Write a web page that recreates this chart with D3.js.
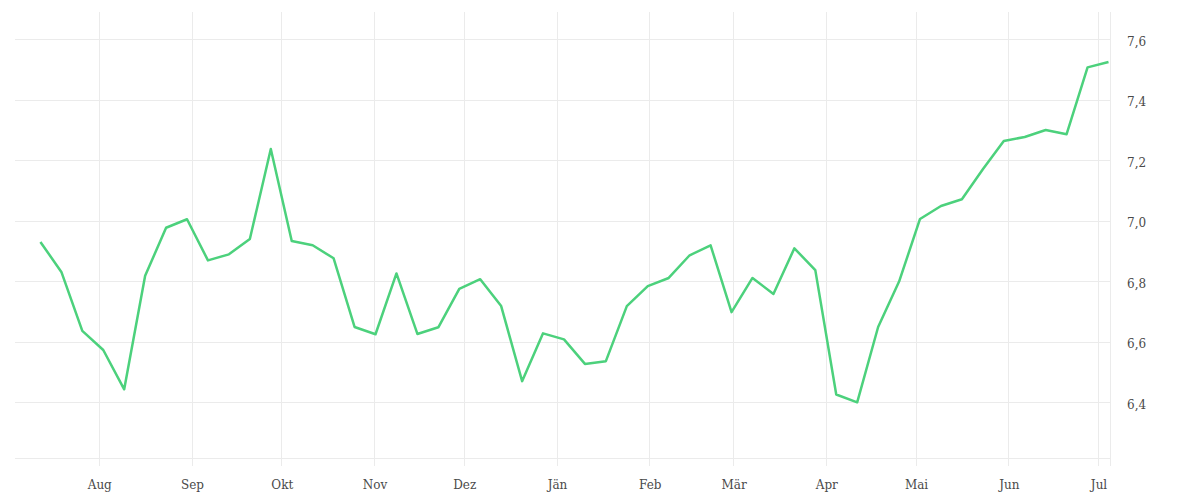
<!DOCTYPE html>
<html>
<head>
<meta charset="utf-8">
<script src="https://cdn.jsdelivr.net/npm/d3@7"></script>
<style>
  html, body { margin: 0; padding: 0; background: #fff; }
  svg { display: block; }
  text { font-family: "DejaVu Serif", serif; }
</style>
</head>
<body>
<svg id="chart" width="1200" height="500"></svg>
<script>
// Weekly dates (first week) and values
const startDate = "2022-07-12T12:00:00";
const values = [
  6.930, 6.831, 6.636, 6.573, 6.443, 6.818, 6.977, 7.005, 6.869, 6.889,
  6.940, 7.237, 6.933, 6.919, 6.876, 6.649, 6.625, 6.826, 6.626, 6.648,
  6.775, 6.807, 6.718, 6.470, 6.628, 6.608, 6.527, 6.536, 6.718, 6.784,
  6.811, 6.886, 6.919, 6.698, 6.811, 6.758, 6.909, 6.837, 6.426, 6.400,
  6.649, 6.799, 7.006, 7.049, 7.071, 7.170, 7.264, 7.277, 7.300, 7.286,
  7.507, 7.525
];
const monthLabels = ["Aug", "Sep", "Okt", "Nov", "Dez", "Jän", "Feb", "Mär", "Apr", "Mai", "Jun", "Jul"];
const monthTicks = ["2022-08-01", "2022-09-01", "2022-10-01", "2022-11-01", "2022-12-01", "2023-01-01",
  "2023-02-01", "2023-03-01", "2023-04-01", "2023-05-01", "2023-06-01", "2023-07-01"];
const yTicks = [6.4, 6.6, 6.8, 7.0, 7.2, 7.4, 7.6];

(function () {
const t0 = d3.isoParse(startDate);
const data = values.map((v, i) => ({ date: d3.timeDay.offset(t0, 7 * i), value: v }));

const svg = d3.select("#chart");
const pLeft = 15, pRight = 1110, pTop = 12, pBottom = 458.3;

const x = d3.scaleTime()
  .domain([new Date(2022, 6, 4), new Date(2023, 6, 5)])
  .range([pLeft, pRight]);
const y = d3.scaleLinear()
  .domain([6.215, 7.69])
  .range([pBottom, pTop]);

const gridColor = "#ebebeb";

// horizontal grid
svg.append("g").selectAll("line").data(yTicks).join("line")
  .attr("x1", pLeft).attr("x2", pRight)
  .attr("y1", d => Math.round(y(d)) + 0.5).attr("y2", d => Math.round(y(d)) + 0.5)
  .attr("stroke", gridColor).attr("stroke-width", 1);

// bottom line
svg.append("line")
  .attr("x1", pLeft).attr("x2", pRight)
  .attr("y1", Math.round(pBottom) + 0.5).attr("y2", Math.round(pBottom) + 0.5)
  .attr("stroke", gridColor);

// vertical grid (months) extending below as ticks
const tickDates = monthTicks.map(s => new Date(s + "T00:00:00"));
svg.append("g").selectAll("line").data(tickDates).join("line")
  .attr("x1", d => Math.round(x(d)) + 0.5).attr("x2", d => Math.round(x(d)) + 0.5)
  .attr("y1", pTop).attr("y2", 466)
  .attr("stroke", gridColor);

// right border
svg.append("line")
  .attr("x1", pRight + 0.5).attr("x2", pRight + 0.5)
  .attr("y1", pTop).attr("y2", 466)
  .attr("stroke", gridColor);

// x labels
svg.append("g").selectAll("text").data(tickDates).join("text")
  .attr("x", d => x(d) + 1)
  .attr("y", 489)
  .attr("text-anchor", "middle")
  .attr("font-size", 12)
  .attr("fill", "#4a4a4a")
  .text((d, i) => monthLabels[i]);

// y labels
const fmt = d => d3.format(".1f")(d).replace(".", ",");
svg.append("g").selectAll("text").data(yTicks).join("text")
  .attr("x", 1127)
  .attr("y", d => y(d) + 6.5)
  .attr("text-anchor", "start")
  .attr("font-size", 12)
  .attr("fill", "#4a4a4a")
  .text(fmt);

// line
const line = d3.line().x(d => x(d.date)).y(d => y(d.value));
svg.append("path")
  .datum(data)
  .attr("d", line)
  .attr("fill", "none")
  .attr("stroke", "#4cd17c")
  .attr("stroke-width", 2.5)
  .attr("stroke-linejoin", "round");
})();
</script>
</body>
</html>
